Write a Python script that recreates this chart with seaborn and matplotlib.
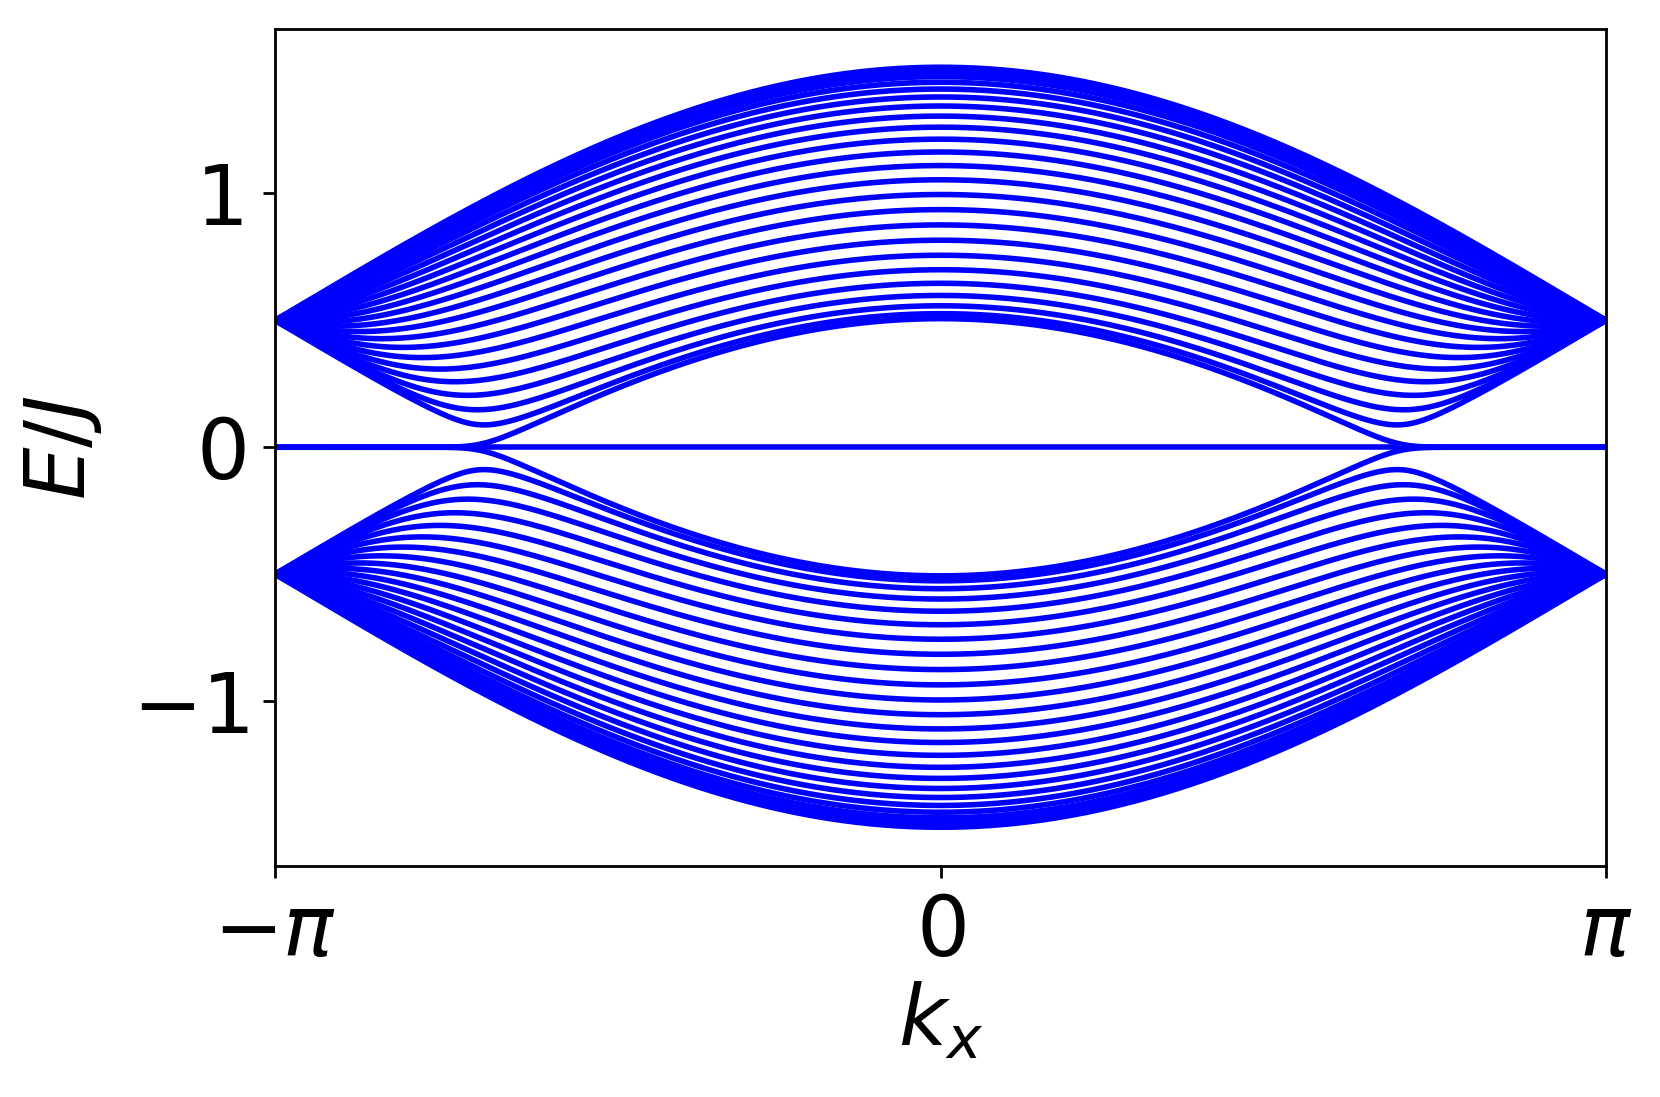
import numpy as np
import pandas as pd
import matplotlib
matplotlib.use("Agg")
import matplotlib.pyplot as plt
import seaborn as sns

# ---- data / model parameters ----
n_cells = 25                 # unit cells across the ribbon
intra_hop_max = 1.0          # intra-cell hopping at kx = 0 (units of J)
inter_hop = 0.5              # inter-cell hopping (units of J)
flat_band_energy = 0.0       # flat zero-energy band across all kx
n_k = 401
kx_ticks = [-np.pi, 0.0, np.pi]
kx_ticklabels = [r"$-\pi$", r"$0$", r"$\pi$"]
E_ticks = [-1, 0, 1]
E_ticklabels = ["$-1$", "0", "1"]

kx_values = np.linspace(-np.pi, np.pi, n_k)

rows = []
for kx in kx_values:
    v = intra_hop_max * np.cos(kx / 2)
    n_sites = 2 * n_cells
    H = np.zeros((n_sites, n_sites))
    for i in range(n_cells):
        H[2 * i, 2 * i + 1] = H[2 * i + 1, 2 * i] = v
        if i < n_cells - 1:
            H[2 * i + 1, 2 * i + 2] = H[2 * i + 2, 2 * i + 1] = inter_hop
    evals = np.linalg.eigvalsh(H)
    for b, e in enumerate(evals):
        rows.append((kx, e, b))
    rows.append((kx, flat_band_energy, n_sites))
df = pd.DataFrame(rows, columns=["kx", "E", "band"])

sns.set_theme(style="ticks")
plt.rcParams["font.family"] = ["DejaVu Sans"]
plt.rcParams["mathtext.fontset"] = "dejavusans"
for key in ["text.color", "axes.labelcolor", "xtick.color", "ytick.color",
            "axes.edgecolor"]:
    plt.rcParams[key] = "black"

fig = plt.figure(figsize=(6.64, 4.388), dpi=250)
ax = fig.add_axes([0.1657, 0.2106, 0.9675 - 0.1657, 0.974 - 0.2106])
sns.lineplot(data=df, x="kx", y="E", units="band", estimator=None,
             color="blue", lw=1.6, ax=ax, legend=False, sort=False)

ax.set_xlim(-np.pi, np.pi)
ax.set_ylim(-1.65, 1.65)
ax.set_xticks(kx_ticks)
ax.set_xticklabels(kx_ticklabels)
ax.set_yticks(E_ticks)
ax.set_yticklabels(E_ticklabels)
ax.tick_params(labelsize=24, length=3.5, width=0.8, color="black",
               labelcolor="black", pad=4)
ax.set_xlabel(r"$k_x$", fontsize=24, labelpad=2, color="black")
ax.set_ylabel(r"$E/J$", fontsize=24, labelpad=8, color="black")
for s in ax.spines.values():
    s.set_visible(True)
    s.set_color("black")
    s.set_linewidth(0.8)

fig.savefig("out.png", dpi=250)
